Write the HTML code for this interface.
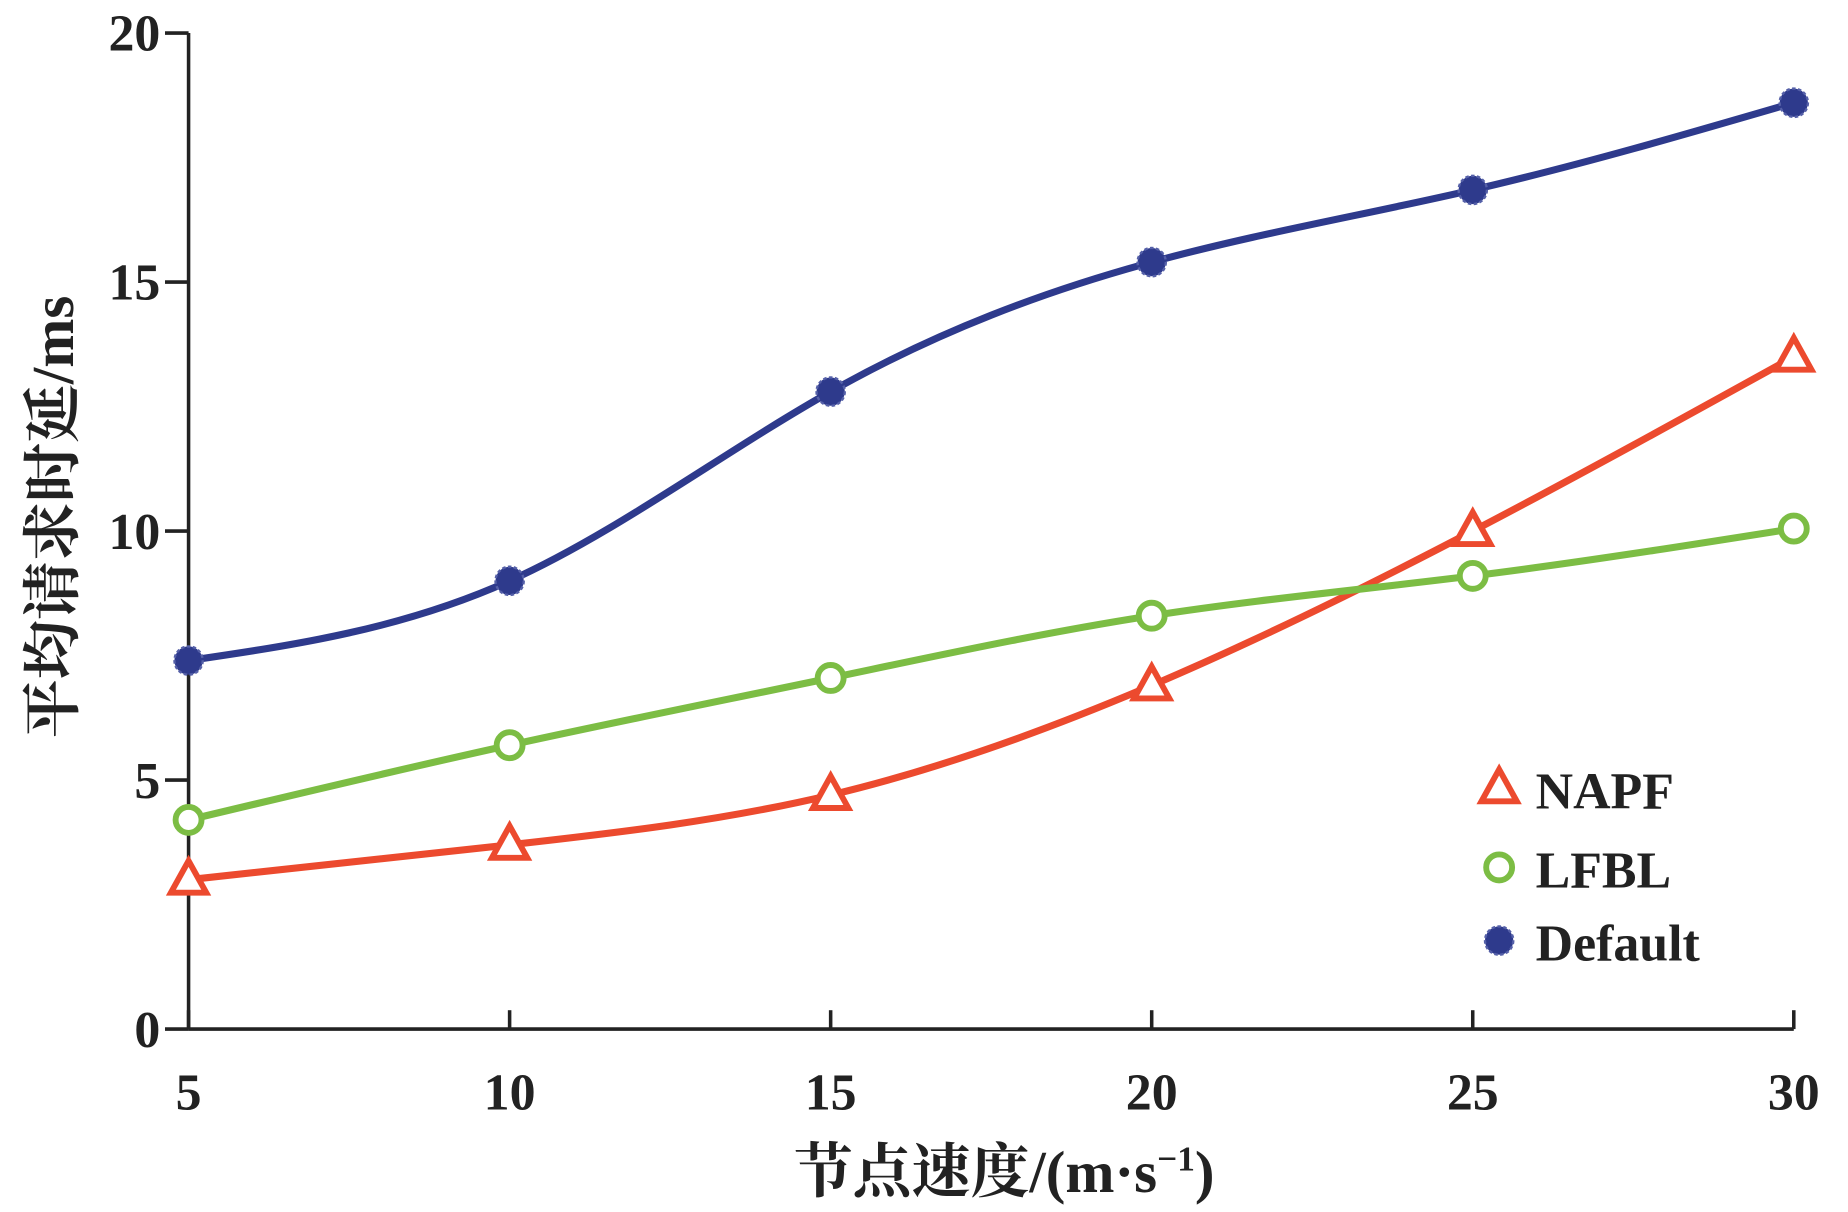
<!DOCTYPE html>
<html><head><meta charset="utf-8"><style>
html,body{margin:0;padding:0;background:#fff;}
svg{display:block;}
text{font-family:"Liberation Serif","Noto Serif CJK SC",serif;font-weight:bold;fill:#222;}
</style></head><body>
<svg id="chart" width="1848" height="1212" viewBox="0 0 1568 1027" preserveAspectRatio="none" xmlns="http://www.w3.org/2000/svg">
<g id="axes"></g>
<g id="series"></g>
<g id="legend"></g>
<text x="852" y="1010" font-size="50" text-anchor="middle">节点速度/(m·s<tspan font-size="30" dy="-18">−1</tspan><tspan dy="18">)</tspan></text>
<text transform="translate(62,438) rotate(-90)" font-size="50" text-anchor="middle">平均请求时延/ms</text>
</svg>
<script>
const categories=[5,10,15,20,25,30];
const napf=[3.0,3.7,4.7,6.9,10.0,13.5];
const lfbl=[4.2,5.7,7.05,8.3,9.1,10.05];
const defaultSeries=[7.4,9.0,12.8,15.4,16.85,18.6];
const xTicks=[5,10,15,20,25,30];
const yTicks=[0,5,10,15,20];
const seriesNames=["NAPF","LFBL","Default"];

const NS="http://www.w3.org/2000/svg";
function X(v){return 160+(v-5)*(1522-160)/25;}
function Y(v){return 872-v*(872-28)/20;}
function mk(tag,attrs,parent){const e=document.createElementNS(NS,tag);for(const k in attrs)e.setAttribute(k,attrs[k]);parent.appendChild(e);return e;}
const axes=document.getElementById('axes'),ser=document.getElementById('series'),leg=document.getElementById('legend');

let a=mk('line',{x1:160,y1:Y(20),x2:160,y2:Y(0),stroke:'#222','stroke-width':3},axes);


a=mk('line',{x1:160,y1:Y(0),x2:X(30),y2:Y(0),stroke:'#222','stroke-width':3},axes);


yTicks.forEach(t=>{
  const l=mk('line',{x1:140,y1:Y(t),x2:160,y2:Y(t),stroke:'#222','stroke-width':3},axes);
  
  
  const tx=mk('text',{x:136,y:Y(t)+15,'font-size':44,'text-anchor':'end'},axes);tx.textContent=t;
  
  
});
xTicks.forEach(t=>{
  const l=mk('line',{x1:X(t),y1:Y(0),x2:X(t),y2:Y(0)-16,stroke:'#222','stroke-width':3},axes);
  
  
  const tx=mk('text',{x:X(t),y:940,'font-size':44,'text-anchor':'middle'},axes);tx.textContent=t;
  
  
});

// natural cubic spline through points (uniform x spacing), output as beziers
function spline(pts){
  const n=pts.length, h=pts[1][0]-pts[0][0];
  const y=pts.map(p=>p[1]);
  // solve for second derivatives M
  const A=[],B=[],C=[],D=[];
  for(let i=0;i<n;i++){
    if(i===0||i===n-1){A.push(0);B.push(1);C.push(0);D.push(0);}
    else{A.push(1);B.push(4);C.push(1);D.push(6*(y[i+1]-2*y[i]+y[i-1])/(h*h));}
  }
  for(let i=1;i<n;i++){const m=A[i]/B[i-1];B[i]-=m*C[i-1];D[i]-=m*D[i-1];}
  const M=new Array(n);M[n-1]=D[n-1]/B[n-1];
  for(let i=n-2;i>=0;i--)M[i]=(D[i]-C[i]*M[i+1])/B[i];
  let d=`M${pts[0][0]},${pts[0][1]}`;
  for(let i=0;i<n-1;i++){
    const s0=(y[i+1]-y[i])/h-h*(2*M[i]+M[i+1])/6;
    const s1=(y[i+1]-y[i])/h+h*(M[i]+2*M[i+1])/6;
    const x0=pts[i][0],x1=pts[i+1][0];
    d+=` C${x0+h/3},${y[i]+s0*h/3} ${x1-h/3},${y[i+1]-s1*h/3} ${x1},${y[i+1]}`;
  }
  return d;
}
function marker(type,x,y,color,parent){
  let m;
  if(type==='tri') m=mk('polygon',{points:`${x},${y-16} ${x-15},${y+11} ${x+15},${y+11}`,fill:'#fff',stroke:color,'stroke-width':5},parent);
  else if(type==='circ') m=mk('circle',{cx:x,cy:y,r:11,fill:'#fff',stroke:color,'stroke-width':5},parent);
  else m=mk('circle',{cx:x,cy:y,r:12,fill:color,stroke:'#5560a8','stroke-width':2,'stroke-dasharray':'3 2'},parent);
  return m;
}
const defs=[[napf,'#ec4a2e','tri'],[lfbl,'#7cbd44','circ'],[defaultSeries,'#2e3a8c','star']];
defs.forEach(([vals,color,type],si)=>{
  const g=mk('g',{},ser);
  
  
  const pts=vals.map((v,i)=>[X(categories[i]),Y(v)]);
  const p=mk('path',{d:spline(pts),fill:'none',stroke:color,'stroke-width':6},g);
  
  
  pts.forEach(pt=>{
    const m=marker(type,pt[0],pt[1],color,g);
    
    
  });
  const ly=[668,735,797][si];
  const lm=marker(type,1272,ly,color,leg);
  
  
  const lt=mk('text',{x:1303,y:ly+17,'font-size':44},leg);lt.textContent=seriesNames[si];
  
  
});
</script>
</body></html>
